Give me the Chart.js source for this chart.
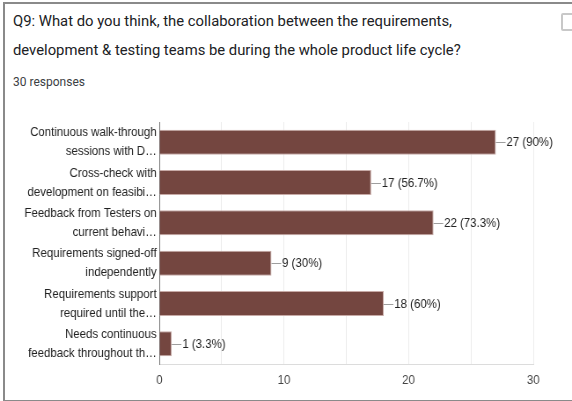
<!DOCTYPE html>
<html>
<head>
<meta charset="utf-8">
<script src="https://cdn.jsdelivr.net/npm/chart.js@4/dist/chart.umd.min.js"></script>
<style>
  html, body { margin: 0; padding: 0; background: #fff; }
  body { width: 572px; height: 401px; position: relative; overflow: hidden; }
  .card {
    position: absolute; left: 3px; top: 2px; width: 600px; height: 396px;
    border-left: 2px solid #8a8a8a; border-top: 2px solid #8a8a8a; border-bottom: 2px solid #8a8a8a;
  }
  .title {
    position: absolute; left: 13px; top: 7px; width: 600px;
    font-family: Roboto, "Noto Sans", sans-serif; font-size: 15.5px; line-height: 29px;
    color: #202124; transform: scaleX(0.956); transform-origin: left top;
  }
  .count {
    position: absolute; left: 13px; top: 75px;
    font-family: Roboto, "Noto Sans", sans-serif; font-size: 12px; color: #3c4043;
  }
  .copy {
    position: absolute; left: 561px; top: 13px; width: 12px; height: 14px;
    border: 2px solid #c8c8c8; border-radius: 2px;
  }
  /* the chart is laid out wide and narrowed, so the Arial text comes out condensed */
  #chart-wrap {
    position: absolute; left: 0; top: 100px; width: 650px; height: 290px;
    transform: scaleX(0.88); transform-origin: left top;
  }
</style>
</head>
<body>
<div class="card"></div>
<div class="title">Q9: What do you think, the collaboration between the requirements,<br>development &amp; testing teams be during the whole product life cycle?</div>
<div class="count">30 responses</div>
<div class="copy"></div>
<div id="chart-wrap"><canvas id="chart-q9"></canvas></div>

<script>
// answer options (as wrapped in the form summary) and response counts
const answers = [
  ['Continuous walk-through', 'sessions with D…'],
  ['Cross-check with', 'development on feasibi…'],
  ['Feedback from Testers on', 'current behavi…'],
  ['Requirements signed-off', 'independently'],
  ['Requirements support', 'required until the…'],
  ['Needs continuous', 'feedback throughout th…']
];
const counts = [27, 17, 22, 9, 18, 1];
const totalResponses = 30;
const axisTicks = [0, 10, 20, 30];

const FONT = 'Arial, "Liberation Sans", sans-serif';

// "27 (90%)" style labels with a short leader line after each bar
const valueLabels = {
  id: 'valueLabels',
  afterDatasetsDraw(chart) {
    const ctx = chart.ctx;
    const meta = chart.getDatasetMeta(0);
    ctx.save();
    ctx.font = '13px ' + FONT;
    ctx.textBaseline = 'middle';
    meta.data.forEach((bar, i) => {
      const v = counts[i];
      const pct = Math.round(v / totalResponses * 1000) / 10;
      const x = bar.x;
      const y = Math.round(bar.y) + 0.5;
      ctx.strokeStyle = '#9e9e9e';
      ctx.lineWidth = 1;
      ctx.beginPath();
      ctx.moveTo(x, y);
      ctx.lineTo(x + 11, y);
      ctx.stroke();
      ctx.fillStyle = '#222';
      ctx.fillText(`${v} (${pct}%)`, x + 12, y);
    });
    ctx.restore();
  }
};

const ctx = document.getElementById('chart-q9').getContext('2d');
new Chart(ctx, {
  type: 'bar',
  data: {
    labels: answers,
    datasets: [{
      data: counts,
      backgroundColor: '#744640',
      borderColor: '#c7aaa6',
      borderWidth: 1,
      borderSkipped: 'left',
      barPercentage: 0.62,
      categoryPercentage: 1
    }]
  },
  options: {
    indexAxis: 'y',
    responsive: true,
    maintainAspectRatio: false,
    animation: false,
    layout: { padding: { top: 22, right: 44, left: 0, bottom: 0 } },
    plugins: {
      legend: { display: false },
      tooltip: { enabled: false }
    },
    scales: {
      x: {
        min: 0,
        max: 30,
        afterBuildTicks: s => { s.ticks = [0, 5, 10, 15, 20, 25, 30].map(v => ({ value: v })); },
        grid: { color: '#ececec', drawTicks: false },
        border: { display: true, color: '#dcdcdc' },
        ticks: {
          padding: 9,
          color: '#444',
          font: { family: FONT, size: 13 },
          callback: v => axisTicks.includes(v) ? String(v) : ''
        },
        afterFit: s => { s.height = 26; }
      },
      y: {
        grid: { display: false, drawTicks: false },
        border: { display: true, color: '#777', width: 1 },
        ticks: {
          autoSkip: false,
          padding: 3,
          color: '#222',
          font: { family: FONT, size: 13, lineHeight: 1.45 }
        },
        afterFit: s => { s.width = 181; }
      }
    }
  },
  plugins: [valueLabels]
});
</script>
</body>
</html>
